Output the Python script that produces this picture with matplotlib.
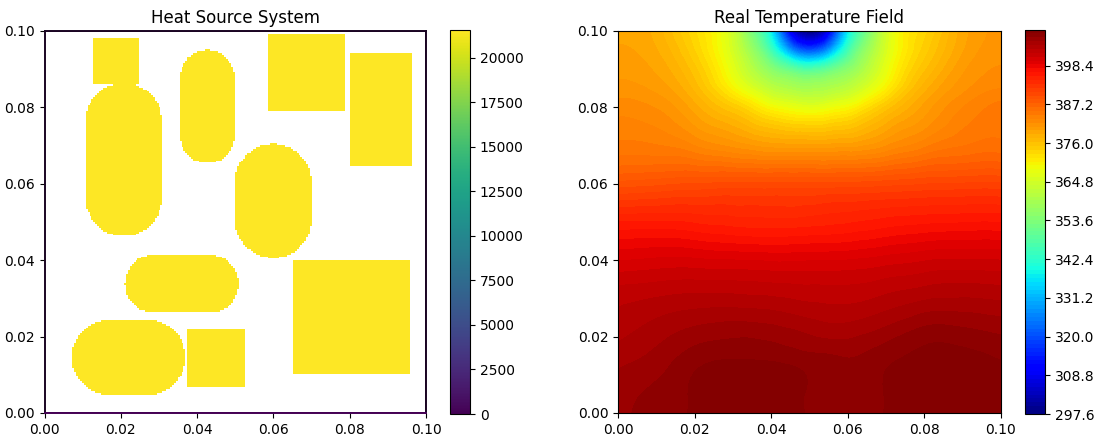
"""
plot.py
Heat source layout and temperature field, side by side.
"""

import numpy as np
import matplotlib
matplotlib.use("Agg")
import matplotlib.pyplot as plt
import matplotlib.tri as mtri

W, H = 1099, 443

# Components as (x0, x1, y0, y1)
SQUARES = [
    (0.0127, 0.0247, 0.0861, 0.0982),
    (0.0373, 0.0525, 0.0068, 0.0220),
    (0.0585, 0.0787, 0.0791, 0.0992),
    (0.0800, 0.0962, 0.0648, 0.0943),
    (0.0651, 0.0957, 0.0102, 0.0400),
]
CAPSULES = [
    (0.0107, 0.0308, 0.0463, 0.0864),
    (0.0355, 0.0499, 0.0654, 0.0950),
    (0.0499, 0.0700, 0.0406, 0.0704),
    (0.0211, 0.0509, 0.0262, 0.0414),
    (0.0072, 0.0369, 0.0048, 0.0244),
]
SOURCE_POWER = 21600
SOURCE_TICKS = [0, 2500, 5000, 7500, 10000, 12500, 15000, 17500, 20000]

# Temperature estimated from the colours of the right panel
TEMP_X = [0, 0.01, 0.02, 0.03, 0.035, 0.04, 0.045, 0.05, 0.055, 0.06, 0.065, 0.07, 0.08, 0.09, 0.1]
TEMP_Y = [0, 0.005, 0.01, 0.015, 0.02, 0.03, 0.04, 0.05, 0.06, 0.07, 0.08, 0.085, 0.09, 0.095, 0.1]
TEMP = [
    [406.2, 407.2, 407.9, 408.7, 408.7, 408.6, 408.2, 407.6, 407.3, 407.2, 407.4, 407.8, 408.8, 408.8, 408.6],
    [406.0, 407.0, 407.9, 408.7, 408.7, 408.6, 408.2, 407.6, 407.3, 407.2, 407.4, 407.8, 408.8, 408.8, 408.5],
    [405.6, 406.4, 407.8, 408.5, 408.5, 408.4, 408.2, 407.6, 407.2, 407.1, 407.3, 407.8, 408.7, 408.7, 408.3],
    [405.1, 405.8, 407.1, 407.5, 407.5, 407.4, 407.1, 406.8, 406.7, 406.5, 406.8, 407.3, 408.1, 408.1, 407.5],
    [404.1, 405.1, 406.1, 406.5, 406.5, 406.3, 406.0, 405.6, 405.3, 405.3, 405.7, 406.2, 407.3, 407.2, 406.7],
    [402.9, 403.3, 403.6, 403.6, 403.5, 403.4, 403.2, 403.0, 402.9, 402.9, 403.1, 403.5, 404.2, 404.4, 404.2],
    [399.8, 400.1, 400.1, 399.9, 399.8, 399.7, 399.7, 399.8, 399.8, 399.9, 400.1, 400.4, 400.9, 401.1, 401.0],
    [395.4, 395.5, 395.2, 394.8, 394.7, 394.6, 394.6, 394.8, 395.0, 395.2, 395.5, 395.8, 396.2, 396.4, 396.4],
    [389.0, 389.4, 389.8, 390.0, 390.0, 390.0, 390.0, 390.0, 390.0, 390.1, 390.2, 390.4, 390.8, 391.0, 391.0],
    [384.4, 384.2, 383.0, 381.5, 380.8, 380.2, 380.0, 380.0, 380.0, 380.2, 380.8, 381.8, 383.8, 385.2, 385.6],
    [382.5, 381.8, 379.0, 375.0, 372.5, 369.5, 368.0, 367.0, 368.0, 369.5, 372.5, 375.5, 380.0, 383.0, 384.5],
    [381.2, 380.4, 377.0, 370.0, 366.0, 362.0, 360.0, 359.0, 360.0, 362.0, 366.0, 370.5, 378.0, 381.5, 383.0],
    [380.4, 379.4, 375.5, 367.0, 361.0, 355.0, 350.0, 347.0, 350.0, 355.0, 361.0, 367.5, 376.0, 380.5, 382.0],
    [379.8, 378.6, 374.0, 365.0, 357.0, 345.0, 328.0, 320.0, 328.0, 345.0, 357.0, 365.5, 374.5, 379.5, 381.5],
    [379.4, 378.0, 373.0, 364.0, 352.0, 337.0, 309.0, 297.6, 309.0, 337.0, 352.0, 364.5, 373.5, 379.0, 381.0],
]
TEMP_MIN = 297.6
TEMP_MAX = 408.86
TEMP_TICKS = [297.6, 308.8, 320.0, 331.2, 342.4, 353.6, 364.8, 376.0, 387.2, 398.4]

AXIS_TICKS = [0, 0.02, 0.04, 0.06, 0.08, 0.1]
AXIS_LABELS = ["0.00", "0.02", "0.04", "0.06", "0.08", "0.10"]


def px_axes(fig, x0, x1, y0, y1):
    """Add axes from pixel bounds, y counted from the top of the image."""
    return fig.add_axes([x0 / W, 1 - y1 / H, (x1 - x0) / W, (y1 - y0) / H])


def source_grid(n=200):
    """Rasterise the components on the n x n layout nodes, empty nodes masked."""
    nodes = np.linspace(0, 0.1, n)
    xx, yy = np.meshgrid(nodes, nodes)
    field = np.full((n, n), np.nan)

    for x0, x1, y0, y1 in SQUARES:
        field[(xx >= x0) & (xx <= x1) & (yy >= y0) & (yy <= y1)] = SOURCE_POWER

    for x0, x1, y0, y1 in CAPSULES:
        r = min(x1 - x0, y1 - y0) / 2
        dx = np.maximum(np.abs(xx - (x0 + x1) / 2) - ((x1 - x0) / 2 - r), 0)
        dy = np.maximum(np.abs(yy - (y0 + y1) / 2) - ((y1 - y0) / 2 - r), 0)
        field[dx**2 + dy**2 <= r**2] = SOURCE_POWER

    # boundary nodes hold zero, they show as a purple rim under the spines
    field[0, :] = field[-1, :] = 0
    field[:, 0] = field[:, -1] = 0
    return nodes, np.ma.masked_invalid(field)


def style_axes(ax, title):
    ax.set_xlim(0, 0.1)
    ax.set_ylim(0, 0.1)
    ax.set_xticks(AXIS_TICKS, AXIS_LABELS)
    ax.set_yticks(AXIS_TICKS, AXIS_LABELS)
    ax.set_title(title, fontsize=12)


def smooth_temperature():
    """Refine the coarse table with matplotlib's cubic triangle interpolator."""
    xx, yy = np.meshgrid(TEMP_X, TEMP_Y)
    triang = mtri.Triangulation(xx.ravel(), yy.ravel())
    refiner = mtri.UniformTriRefiner(triang)
    fine, values = refiner.refine_field(np.array(TEMP).ravel(), subdiv=3)
    # stay just inside the levels, contourf leaves anything outside them blank
    return fine, np.clip(values, TEMP_MIN + 0.01, TEMP_MAX - 0.01)


if __name__ == "__main__":
    fig = plt.figure(figsize=(W / 100, H / 100), dpi=100)

    ax1 = px_axes(fig, 44.5, 426, 31, 413)
    nodes, field = source_grid()
    mesh = ax1.pcolormesh(nodes, nodes, field, shading="nearest", cmap="viridis",
                          vmin=0, vmax=SOURCE_POWER)
    style_axes(ax1, "Heat Source System")
    for name, spine in ax1.spines.items():
        spine.set_linewidth(1.4)
        spine.set_color("#440154" if name == "bottom" else "#1a0522")
    cax1 = px_axes(fig, 450, 470, 29.5, 414)
    fig.colorbar(mesh, cax=cax1, ticks=SOURCE_TICKS)

    ax2 = px_axes(fig, 618, 1001, 31, 413)
    levels = np.linspace(TEMP_MIN, TEMP_MAX, 100)
    fine, values = smooth_temperature()
    filled = ax2.tricontourf(fine, values, levels=levels, cmap="jet")
    style_axes(ax2, "Real Temperature Field")
    cax2 = px_axes(fig, 1025, 1045, 29.5, 414)
    cbar = fig.colorbar(filled, cax=cax2, ticks=TEMP_TICKS)
    cbar.ax.set_yticklabels([f"{t:.1f}" for t in TEMP_TICKS])

    fig.savefig("out.png", dpi=100)
